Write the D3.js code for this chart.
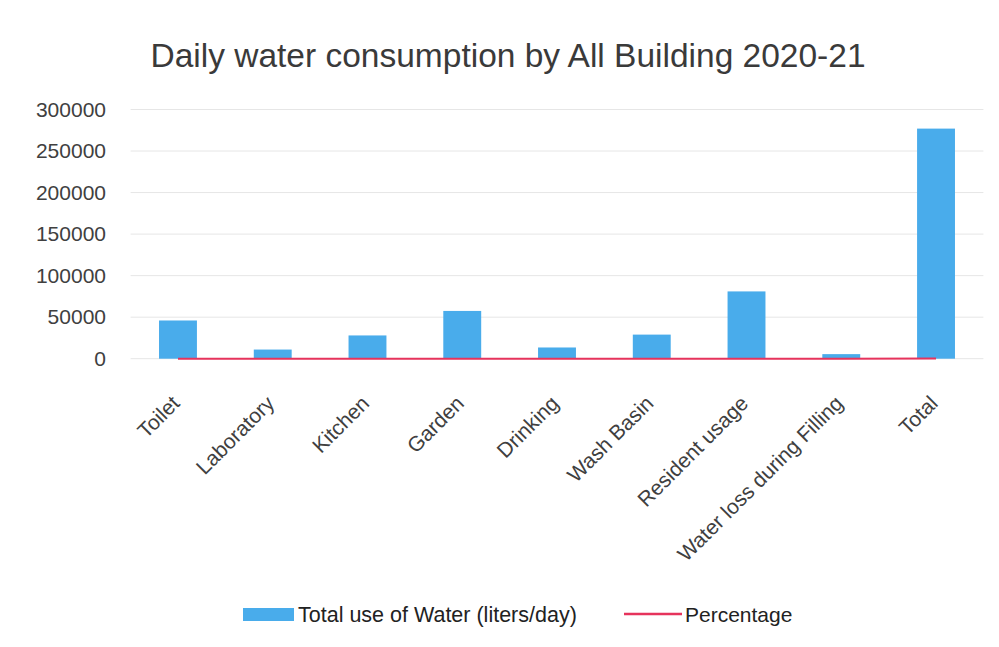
<!DOCTYPE html>
<html>
<head>
<meta charset="utf-8">
<script src="https://cdn.jsdelivr.net/npm/d3@7"></script>
<style>
  html, body { margin: 0; padding: 0; background: #ffffff; }
  svg { display: block; }
  text { font-family: "Liberation Sans", Arial, sans-serif; }
</style>
</head>
<body>
<div id="chart"></div>
<script>
// ---- data ----
const categories = ["Toilet", "Laboratory", "Kitchen", "Garden", "Drinking", "Wash Basin", "Resident usage", "Water loss during Filling", "Total"];
const waterUse = [46000, 11000, 28000, 57500, 13500, 29000, 81000, 5500, 277000];
const percentage = [16.6, 4.0, 10.1, 20.8, 4.9, 10.5, 29.2, 2.0, 100];
const yTicks = [0, 50000, 100000, 150000, 200000, 250000, 300000];
const titleText = "Daily water consumption by All Building 2020-21";
const seriesNames = ["Total use of Water (liters/day)", "Percentage"];

// ---- layout ----
const W = 999, H = 647;
const plot = { left: 130.6, right: 983.4, top: 109.5, bottom: 358.7 };
const barColor = "#49aceb";
const lineColor = "#e6335c";
const textColor = "#404040";

const svg = d3.select("#chart").append("svg").attr("width", W).attr("height", H);

const x = d3.scaleBand().domain(categories).range([plot.left, plot.right])
  .paddingInner(0.6).paddingOuter(0.3);
const y = d3.scaleLinear().domain([0, 300000]).range([plot.bottom, plot.top]);

// title
svg.append("text")
  .attr("x", 508).attr("y", 67)
  .attr("text-anchor", "middle")
  .attr("font-size", 33.5)
  .attr("fill", "#3a3a3a")
  .text(titleText);

// gridlines
svg.append("g").selectAll("line").data(yTicks).join("line")
  .attr("x1", plot.left).attr("x2", plot.right)
  .attr("y1", d => y(d)).attr("y2", d => y(d))
  .attr("stroke", "#e6e6e6").attr("stroke-width", 1);

// y axis
const yAxis = d3.axisLeft(y).tickValues(yTicks).tickSize(0).tickPadding(0).tickFormat(d3.format("d"));
const gy = svg.append("g").attr("transform", `translate(106,0)`).call(yAxis);
gy.select(".domain").remove();
gy.selectAll("text").attr("font-size", 21).attr("fill", textColor)
  .attr("font-family", "Liberation Sans, Arial, sans-serif");

// bars
svg.append("g").selectAll("rect").data(categories).join("rect")
  .attr("x", d => x(d))
  .attr("width", x.bandwidth())
  .attr("y", (d, i) => y(waterUse[i]))
  .attr("height", (d, i) => y(0) - y(waterUse[i]))
  .attr("fill", barColor);

// percentage line
const line = d3.line()
  .x((d, i) => x(categories[i]) + x.bandwidth() / 2)
  .y(d => y(d));
svg.append("path").datum(percentage)
  .attr("d", line)
  .attr("fill", "none")
  .attr("stroke", lineColor)
  .attr("stroke-width", 2);

// x axis labels
const xAxis = d3.axisBottom(x).tickSize(0).tickPadding(0);
const gx = svg.append("g").attr("transform", `translate(0,${plot.bottom})`).call(xAxis);
gx.select(".domain").remove();
gx.selectAll("text")
  .attr("font-size", 21)
  .attr("fill", textColor)
  .attr("font-family", "Liberation Sans, Arial, sans-serif")
  .attr("text-anchor", "end")
  .attr("dy", null).attr("y", null)
  .attr("transform", `translate(3,46) rotate(-45)`);

// legend
const lg = svg.append("g");
lg.append("rect").attr("x", 243).attr("y", 608).attr("width", 51).attr("height", 13).attr("fill", barColor);
lg.append("text").attr("x", 298).attr("y", 622).attr("font-size", 21.5).attr("fill", "#222").text(seriesNames[0]);
lg.append("line").attr("x1", 624).attr("x2", 682).attr("y1", 614).attr("y2", 614)
  .attr("stroke", lineColor).attr("stroke-width", 2.5);
lg.append("text").attr("x", 685).attr("y", 622).attr("font-size", 21).attr("fill", "#222").text(seriesNames[1]);
</script>
</body>
</html>
